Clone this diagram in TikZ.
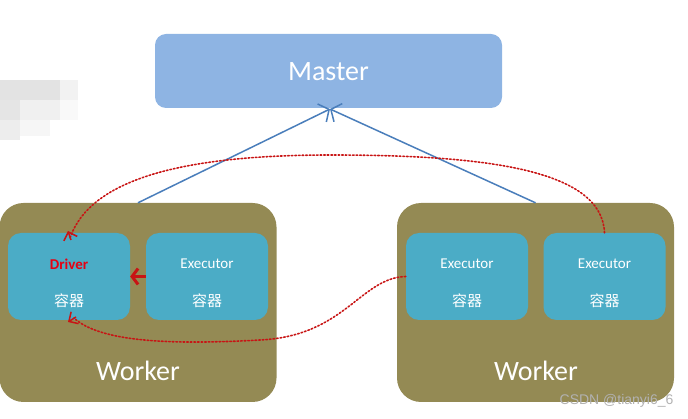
\documentclass[tikz,border=0pt]{standalone}
\usepackage{fontspec}
\setmainfont{Carlito}
\newfontfamily\cjk{Noto Sans CJK SC}
\newfontfamily\wmfont{Liberation Sans}
\usetikzlibrary{arrows.meta}
\definecolor{masterc}{RGB}{142,180,227}
\definecolor{workerc}{RGB}{148,138,84}
\definecolor{contc}{RGB}{75,172,198}
\definecolor{bluel}{RGB}{74,126,187}
\definecolor{redl}{RGB}{200,20,20}
\definecolor{drvred}{RGB}{230,0,18}
\tikzset{
  box/.style={draw=none, rounded corners=#1, inner sep=0pt},
  master/.style={box=11pt, fill=masterc, minimum width=347pt, minimum height=74pt},
  worker/.style={box=24pt, fill=workerc, minimum width=277pt, minimum height=199pt},
  cont/.style={box=13pt, fill=contc, minimum width=122pt, minimum height=87pt},
  lbl/.style={text=white, font=\fontsize{15}{15}\selectfont},
  cjklbl/.style={text=white, font=\cjk\fontsize{15}{15}\selectfont},
  bigl/.style={text=white, font=\fontsize{28}{28}\selectfont},
  upline/.style={draw=bluel, line width=1.5pt, -{Straight Barb[length=8pt,width=20pt]}},
  reddot/.style={draw=redl, line width=1.6pt, dotted, line cap=round},
  redhead/.style={draw=redl, line width=1.5pt, -{Straight Barb[length=7pt,width=14pt]}},
}
\begin{document}
\begin{tikzpicture}[x=1pt,y=-1pt]
\useasboundingbox (0,0) rectangle (688,419);
% blurred patch
\fill[gray!22] (0,80) rectangle (60,100);
\fill[gray!10] (60,80) rectangle (78,100);
\fill[gray!20] (0,100) rectangle (20,120);
\fill[gray!12] (20,100) rectangle (60,120);
\fill[gray!5] (60,100) rectangle (78,120);
\fill[gray!14] (0,120) rectangle (20,140);
\fill[gray!7] (20,120) rectangle (50,136);

\node[master] (master) at (328.5,71) {};
\node[bigl] (mastert) at (328.5,72) {Master};

\node[worker] (w1) at (138,302.5) {};
\node[worker] (w2) at (535.5,302.5) {};

\node[cont] (drv) at (69,276.5) {};
\node[cont] (ex1) at (207,276.5) {};
\node[cont] (ex2) at (467,276.5) {};
\node[cont] (ex3) at (604.5,276.5) {};

\node[text=drvred, font=\bfseries\fontsize{15}{15}\selectfont] (drvt) at (69,264) {Driver};
\node[cjklbl] (drvc) at (69,301) {容器};
\node[lbl] (ex1t) at (207,264) {Executor};
\node[cjklbl] (ex1c) at (207,301) {容器};
\node[lbl] (ex2t) at (467,264) {Executor};
\node[cjklbl] (ex2c) at (467,301) {容器};
\node[lbl] (ex3t) at (604.5,264) {Executor};
\node[cjklbl] (ex3c) at (604.5,301) {容器};

\node[bigl] (w1t) at (138,371) {Worker};
\node[bigl] (w2t) at (536,371) {Worker};

% blue lines to master
\coordinate (mb) at (330,109);
\draw[upline] (w1.north) -- (mb);
\draw[upline] (w2.north) -- (mb);

% red dotted curves
\coordinate (drvtop) at (68,231);
\coordinate (drvbot) at (68,322);
\draw[reddot] (ex3.north) .. controls (602,168) and (480,155) .. (330,155)
   .. controls (180,155) and (90,180) .. ([xshift=2pt,yshift=-7pt]drvtop);
\draw[redhead] ([xshift=3pt,yshift=-9pt]drvtop) -- (drvtop);
\draw[reddot] (ex2.west) .. controls (360,278) and (345,336) .. (260,340)
   .. controls (170,345) and (100,342) .. ([xshift=6pt,yshift=4pt]drvbot);
\draw[redhead] ([xshift=8pt,yshift=5pt]drvbot) -- (drvbot);

% thick red arrow executor -> driver
\draw[draw=redl, line width=3pt, -{Straight Barb[length=6pt,width=16pt]}] (ex1.west) -- (drv.east);

\node[text=gray!60, font=\wmfont\fontsize{14}{14}\selectfont, anchor=east] (wmark) at (677,401) {CSDN @tianyi6\_6};
\end{tikzpicture}
\end{document}
